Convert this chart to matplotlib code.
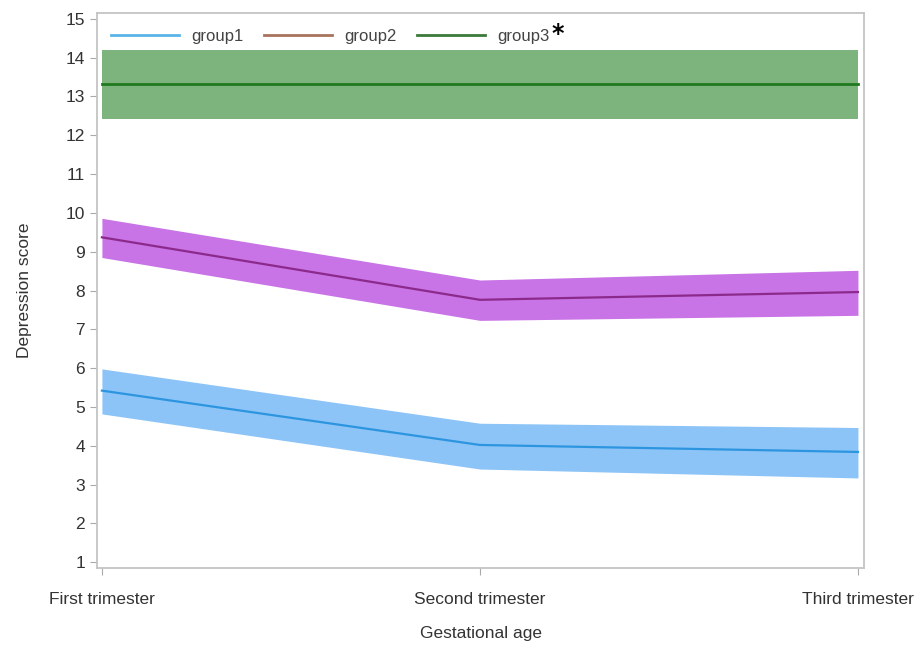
import matplotlib
matplotlib.use("Agg")
import matplotlib.pyplot as plt
from matplotlib import font_manager

# Données
trimestres = ["First trimester", "Second trimester", "Third trimester"]
g1_moy = [5.42, 4.02, 3.84]
g1_bas = [4.82, 3.40, 3.17]
g1_haut = [5.98, 4.58, 4.47]
g2_moy = [9.37, 7.76, 7.96]
g2_bas = [8.85, 7.23, 7.36]
g2_haut = [9.86, 8.27, 8.52]
g3_moy = [13.33, 13.33, 13.33]
g3_bas = [12.43, 12.43, 12.43]
g3_haut = [14.2, 14.2, 14.2]
y_ticks = list(range(1, 16))

noms = {f.name for f in font_manager.fontManager.ttflist}
police = "Liberation Sans Narrow" if "Liberation Sans Narrow" in noms else "Liberation Sans"
plt.rcParams["font.family"] = [police, "DejaVu Sans"]

fig = plt.figure(figsize=(9.22, 6.47), dpi=100)
ax = fig.add_axes([97 / 922, 1 - 568 / 647, (864 - 97) / 922, (568 - 13) / 647])
x = list(range(len(trimestres)))

ax.fill_between(x, g3_bas, g3_haut, color="#7db37d", lw=0)
ax.fill_between(x, g2_bas, g2_haut, color="#c873e6", lw=0)
ax.fill_between(x, g1_bas, g1_haut, color="#8cc4f7", lw=0)
ax.plot(x, g3_moy, color="#1f7a1f", lw=2)
ax.plot(x, g2_moy, color="#8c2a8c", lw=1.6)
ax.plot(x, g1_moy, color="#2d95e0", lw=1.6)

# légende (couleurs propres à la légende d'origine)
h1, = ax.plot([], [], color="#5cb3e8", lw=2, label="group1")
h2, = ax.plot([], [], color="#a8735c", lw=2, label="group2")
h3, = ax.plot([], [], color="#3a7a3a", lw=2, label="group3")
leg = ax.legend(handles=[h1, h2, h3], loc="upper left", ncol=3, frameon=False,
                fontsize=12, handlelength=4.1, columnspacing=1.25, handletextpad=0.7,
                bbox_to_anchor=(0.005, 0.99), borderaxespad=0.2)
for t in leg.get_texts():
    t.set_color("#444444")

ax.set_xlim(-0.013, 2.016)
ax.set_ylim(0.85, 15.15)
ax.set_xticks(x)
ax.set_xticklabels(trimestres)
ax.set_yticks(y_ticks)
ax.tick_params(axis="both", colors="#aaaaaa", labelcolor="#333333", labelsize=12.5, length=5)
ax.tick_params(axis="x", pad=12)
for s in ax.spines.values():
    s.set_color("#c4c4c4")
    s.set_linewidth(1.3)
ax.set_xlabel("Gestational age", fontsize=12.5, color="#333333", labelpad=14)
ax.set_ylabel("Depression score", fontsize=12.5, color="#333333", labelpad=24)

# astérisque après "group3"
fig.canvas.draw()
bb = leg.get_texts()[2].get_window_extent()
fig.text(bb.x1 + 2, bb.y1 + 7, "*", transform=None, fontsize=17, fontweight="bold",
         color="black", ha="left", va="top", family="DejaVu Sans")

fig.savefig("out.png", dpi=100)
